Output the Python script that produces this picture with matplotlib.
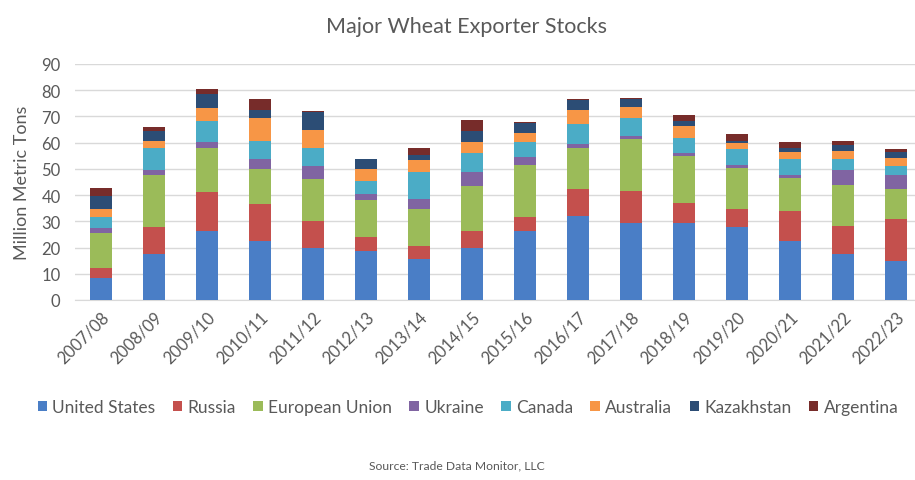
import matplotlib
matplotlib.use("Agg")
import matplotlib.pyplot as plt
import numpy as np

plt.rcParams['font.family'] = ['Lato', 'DejaVu Sans']

years = ["2007/08", "2008/09", "2009/10", "2010/11", "2011/12", "2012/13",
         "2013/14", "2014/15", "2015/16", "2016/17", "2017/18", "2018/19",
         "2019/20", "2020/21", "2021/22", "2022/23"]

united_states = [8.3, 17.6, 26.5, 22.6, 19.8, 18.8, 15.6, 19.8, 26.2, 31.9, 29.4, 29.3, 28.0, 22.6, 17.6, 15.0]
russia        = [3.9, 10.4, 14.6, 14.0, 10.5, 5.1, 4.9, 6.7, 5.6, 10.5, 12.1, 7.6, 6.7, 11.2, 10.8, 15.7]
european_union = [13.2, 19.5, 16.8, 13.4, 15.9, 14.4, 14.2, 16.9, 19.7, 15.6, 20.0, 17.9, 15.6, 12.6, 15.5, 11.7]
ukraine       = [2.0, 1.9, 2.5, 3.8, 4.8, 2.2, 3.8, 5.3, 3.0, 1.5, 1.0, 1.3, 1.2, 1.3, 5.8, 5.1]
canada        = [4.2, 8.5, 8.0, 7.0, 6.9, 5.0, 10.2, 7.4, 5.7, 7.7, 6.8, 5.7, 6.1, 6.1, 4.1, 3.5]
australia     = [3.1, 2.9, 4.9, 8.5, 7.0, 4.5, 4.5, 4.3, 3.5, 5.1, 4.2, 4.7, 2.2, 2.6, 3.2, 3.1]
kazakhstan    = [5.1, 3.8, 5.3, 3.0, 6.7, 3.6, 2.1, 4.2, 3.9, 4.0, 3.2, 1.9, 1.0, 1.5, 2.3, 2.3]
argentina     = [2.8, 1.3, 1.9, 4.2, 0.3, 0.2, 2.7, 4.2, 0.3, 0.3, 0.5, 2.0, 2.6, 2.5, 1.4, 1.2]

series_names = ["United States", "Russia", "European Union", "Ukraine",
                "Canada", "Australia", "Kazakhstan", "Argentina"]
series_values = [united_states, russia, european_union, ukraine,
                 canada, australia, kazakhstan, argentina]
colors = ["#4A7EC6", "#C4504D", "#9BBB59", "#8064A2",
          "#4BACC6", "#F79646", "#2C4D75", "#772C2A"]

text_color = "#595959"

fig = plt.figure(figsize=(9.15, 4.81), dpi=100)
ax = fig.add_axes([74.5 / 915, 1 - 301 / 481, 848 / 915, 236 / 481])

x = np.arange(len(years))
bottom = np.zeros(len(years))
for name, vals, col in zip(series_names, series_values, colors):
    vals = np.array(vals)
    ax.bar(x, vals, width=0.41, bottom=bottom, color=col, label=name, zorder=3)
    bottom += vals

ax.set_xlim(-0.5, len(years) - 0.5)
ax.set_ylim(0, 90)
ax.set_yticks(np.arange(0, 91, 10))
ax.yaxis.grid(True, color="#D9D9D9", linewidth=1.0, zorder=0)
for s in ["top", "right", "left"]:
    ax.spines[s].set_visible(False)
ax.spines["bottom"].set_color("#D9D9D9")
ax.tick_params(axis="both", length=0, colors=text_color, labelsize=12)
ax.tick_params(axis="y", pad=10)
ax.set_xticks(x)
ax.set_xticklabels(years, rotation=45, ha="right", rotation_mode="anchor")
ax.tick_params(axis="x", pad=6)

ax.set_ylabel("Million Metric Tons", color=text_color, fontsize=13, labelpad=8)
fig.text(466 / 915, 1 - 27 / 481, "Major Wheat Exporter Stocks", ha="center",
         va="center", color=text_color, fontsize=15.5)

leg = fig.legend(loc="center", bbox_to_anchor=(468 / 915, 1 - 408 / 481), ncol=8,
                 frameon=False, fontsize=12.5, handlelength=0.55, handleheight=0.55,
                 handletextpad=0.3, columnspacing=1.0)
for t in leg.get_texts():
    t.set_color(text_color)

fig.text(457 / 915, 1 - 466 / 481, "Source: Trade Data Monitor, LLC", ha="center",
         va="center", color=text_color, fontsize=8.7)

fig.savefig("out.png", dpi=100)
